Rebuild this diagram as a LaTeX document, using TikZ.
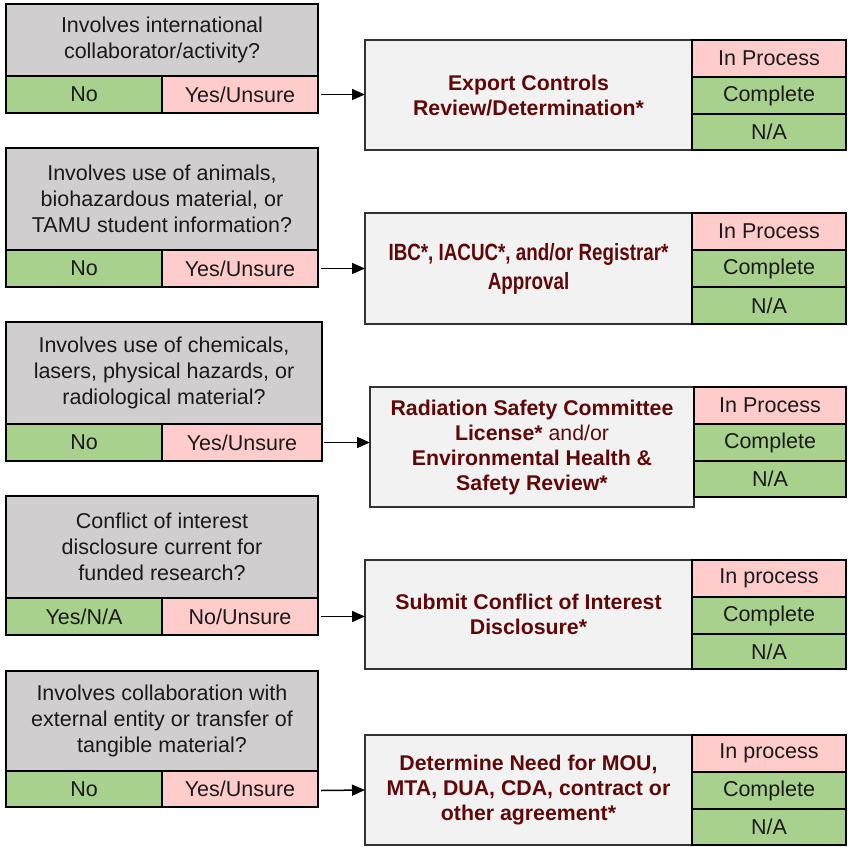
\documentclass[tikz,border=0pt]{standalone}
\usepackage{fontspec}
\setmainfont{Liberation Sans}
\newfontfamily\narrowfont[FakeStretch=0.8]{Liberation Sans}
\usetikzlibrary{arrows.meta}
\definecolor{qgray}{HTML}{D0CECE}
\definecolor{agreen}{HTML}{A9D18E}
\definecolor{apink}{HTML}{FFCCCC}
\definecolor{tgray}{HTML}{F2F2F2}
\definecolor{maroon}{HTML}{600808}
\definecolor{ink}{HTML}{1A1A1A}
\begin{document}
\begin{tikzpicture}[x=1pt,y=-1pt,
  base/.style={draw=black, line width=1.4pt, inner sep=0pt, outer sep=0pt, anchor=north west,
    align=center, text=ink, font=\fontsize{21.5}{26}\selectfont},
  qbox/.style={base, fill=qgray},
  okbox/.style={base, fill=agreen},
  flagbox/.style={base, fill=apink},
  taskbox/.style={base, fill=tgray, draw=black!80, text=maroon,
    font=\bfseries\fontsize{21.3}{25}\selectfont},
  flow/.style={line width=1.5pt, -{Triangle[length=13pt,width=11pt]}}
]
\useasboundingbox (0,0) rectangle (848,846);

% ---------- Row 1 ----------
\node[qbox, minimum width=312pt, minimum height=72pt] (q1) at (6,4)
  {Involves international\\collaborator/activity?};
\node[okbox, minimum width=156pt, minimum height=37pt] (n1) at (6,76) {No};
\node[flagbox, minimum width=156pt, minimum height=37pt] (y1) at (162,76) {Yes/Unsure};
\node[taskbox, minimum width=327pt, minimum height=110pt] (t1) at (365,40)
  {Export Controls\\Review/Determination*};
\node[flagbox, minimum width=154pt, minimum height=37pt] (s1a) at (692,40) {In Process};
\node[okbox, minimum width=154pt, minimum height=37pt] (s1b) at (692,77) {Complete};
\node[okbox, minimum width=154pt, minimum height=36pt] (s1c) at (692,114) {N/A};
\draw[flow] ([xshift=3pt]y1.east) -- (y1.east -| t1.west);

% ---------- Row 2 ----------
\node[qbox, minimum width=312pt, minimum height=102pt] (q2) at (6,148)
  {Involves use of animals,\\biohazardous material, or\\TAMU student information?};
\node[okbox, minimum width=156pt, minimum height=37pt] (n2) at (6,250) {No};
\node[flagbox, minimum width=156pt, minimum height=37pt] (y2) at (162,250) {Yes/Unsure};
\node[taskbox, minimum width=327pt, minimum height=111pt,
  font=\narrowfont\bfseries\fontsize{23.5}{29}\selectfont] (t2) at (365,213)
  {IBC*, IACUC*, and/or Registrar*\\Approval};
\node[flagbox, minimum width=154pt, minimum height=37pt] (s2a) at (692,213) {In Process};
\node[okbox, minimum width=154pt, minimum height=37pt] (s2b) at (692,250) {Complete};
\node[okbox, minimum width=154pt, minimum height=37pt] (s2c) at (692,287) {N/A};
\draw[flow] ([xshift=3pt]y2.east) -- (y2.east -| t2.west);

% ---------- Row 3 ----------
\node[qbox, minimum width=316pt, minimum height=102pt] (q3) at (6,322)
  {Involves use of chemicals,\\lasers, physical hazards, or\\radiological material?};
\node[okbox, minimum width=156pt, minimum height=37pt] (n3) at (6,424) {No};
\node[flagbox, minimum width=160pt, minimum height=37pt] (y3) at (162,424) {Yes/Unsure};
\node[taskbox, minimum width=324pt, minimum height=120pt] (t3) at (370,387)
  {Radiation Safety Committee\\License*{\mdseries\ and/or}\\Environmental Health \&\\Safety Review*};
\node[flagbox, minimum width=152pt, minimum height=37pt] (s3a) at (694,387) {In Process};
\node[okbox, minimum width=152pt, minimum height=37pt] (s3b) at (694,424) {Complete};
\node[okbox, minimum width=152pt, minimum height=36pt] (s3c) at (694,461) {N/A};
\draw[flow] ([xshift=2pt]y3.east) -- (y3.east -| t3.west);

% ---------- Row 4 ----------
\node[qbox, minimum width=312pt, minimum height=102pt] (q4) at (6,496)
  {Conflict of interest\\disclosure current for\\funded research?};
\node[okbox, minimum width=156pt, minimum height=37pt] (n4) at (6,598) {Yes/N/A};
\node[flagbox, minimum width=156pt, minimum height=37pt] (y4) at (162,598) {No/Unsure};
\node[taskbox, minimum width=327pt, minimum height=109pt] (t4) at (365,560)
  {Submit Conflict of Interest\\Disclosure*};
\node[flagbox, minimum width=154pt, minimum height=37pt] (s4a) at (692,560) {In process};
\node[okbox, minimum width=154pt, minimum height=37pt] (s4b) at (692,597) {Complete};
\node[okbox, minimum width=154pt, minimum height=35pt] (s4c) at (692,634) {N/A};
\draw[flow] ([xshift=3pt]y4.east) -- (y4.east -| t4.west);

% ---------- Row 5 ----------
\node[qbox, minimum width=312pt, minimum height=100pt] (q5) at (6,671)
  {Involves collaboration with\\external entity or transfer of\\tangible material?};
\node[okbox, minimum width=156pt, minimum height=36pt] (n5) at (6,771) {No};
\node[flagbox, minimum width=156pt, minimum height=36pt] (y5) at (162,771) {Yes/Unsure};
\node[taskbox, minimum width=327pt, minimum height=110pt] (t5) at (365,735)
  {Determine Need for MOU,\\MTA, DUA, CDA, contract or\\other agreement*};
\node[flagbox, minimum width=154pt, minimum height=37pt] (s5a) at (692,735) {In process};
\node[okbox, minimum width=154pt, minimum height=37pt] (s5b) at (692,772) {Complete};
\node[okbox, minimum width=154pt, minimum height=36pt] (s5c) at (692,809) {N/A};
\draw[flow] ([xshift=3pt,yshift=-1.5pt]y5.east) -- (t5.west);
\end{tikzpicture}
\end{document}
